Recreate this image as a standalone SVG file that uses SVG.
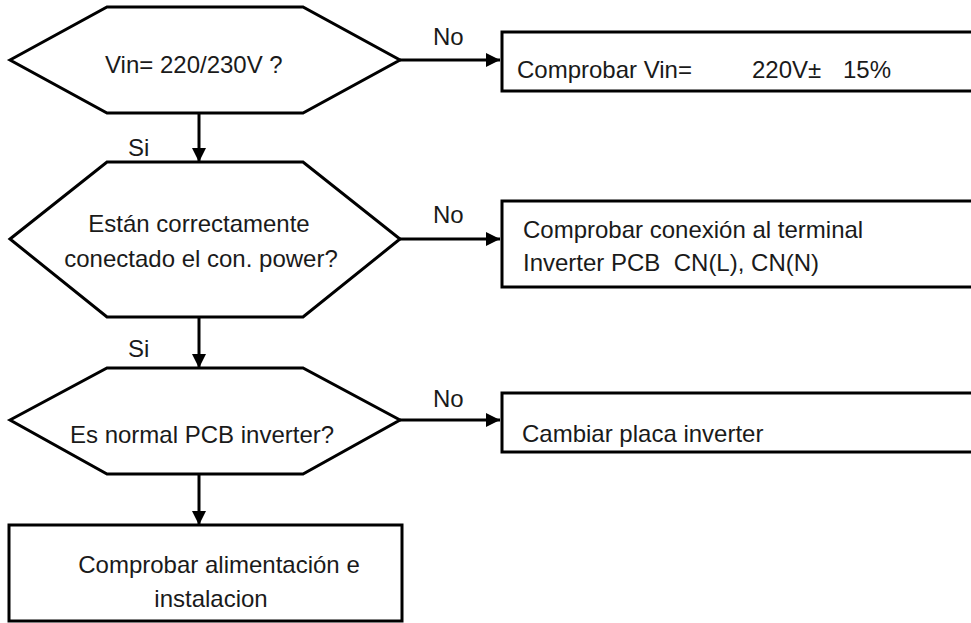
<svg xmlns="http://www.w3.org/2000/svg" width="971" height="623" viewBox="0 0 971 623">
<defs>
<style>
.shape{fill:#fff;stroke:#000;stroke-width:3;stroke-linejoin:miter}
.t{font-family:"Liberation Sans",Arial,sans-serif;font-size:24px;fill:#1a1a1a}
.c{text-anchor:middle}
.pre{white-space:pre}
.line{stroke:#000;stroke-width:3;fill:none}
</style>
<marker id="ah" viewBox="0 0 10 10" refX="10" refY="5" markerWidth="14" markerHeight="14" markerUnits="userSpaceOnUse" orient="auto">
<path d="M0,0 L10,5 L0,10 Z" fill="#000"/>
</marker>
</defs>
<rect width="971" height="623" fill="#fff"/>
<g id="connectors">
<line class="line" x1="400" y1="60" x2="500" y2="60" marker-end="url(#ah)"/>
<text class="t" x="433" y="45">No</text>
<line class="line" x1="199" y1="113" x2="199" y2="162" marker-end="url(#ah)"/>
<text class="t" x="128" y="156">Si</text>
<line class="line" x1="400" y1="239" x2="500" y2="239" marker-end="url(#ah)"/>
<text class="t" x="433" y="223">No</text>
<line class="line" x1="199" y1="317" x2="199" y2="368" marker-end="url(#ah)"/>
<text class="t" x="128" y="357">Si</text>
<line class="line" x1="400" y1="420" x2="500" y2="420" marker-end="url(#ah)"/>
<text class="t" x="433" y="407">No</text>
<line class="line" x1="199" y1="474" x2="199" y2="525" marker-end="url(#ah)"/>
</g>
<g id="d1">
<polygon class="shape" points="10,60 107,7 303,7 400,60 303,113 107,113"/>
<text class="t" x="105" y="73">Vin= 220/230V ?</text>
</g>
<g id="b1">
<rect class="shape" x="502" y="32" width="472" height="59"/>
<text class="t" x="517" y="78">Comprobar Vin=</text>
<text class="t" x="752" y="78">220V±</text>
<text class="t" x="843" y="78">15%</text>
</g>
<g id="d2">
<polygon class="shape" points="10,239 107,162 303,162 400,239 303,317 107,317"/>
<text class="t c" x="199" y="232">Están correctamente</text>
<text class="t c" x="201" y="267">conectado el con. power?</text>
</g>
<g id="b2">
<rect class="shape" x="502" y="201" width="472" height="86"/>
<text class="t" x="523" y="238">Comprobar conexión al terminal</text>
<text class="t pre" x="523" y="271" xml:space="preserve">Inverter PCB  CN(L), CN(N)</text>
</g>
<g id="d3">
<polygon class="shape" points="10,420 107,368 303,368 400,420 303,474 107,474"/>
<text class="t" x="70" y="443">Es normal PCB inverter?</text>
</g>
<g id="b3">
<rect class="shape" x="502" y="393" width="472" height="59"/>
<text class="t" x="522" y="442">Cambiar placa inverter</text>
</g>
<g id="b4">
<rect class="shape" x="9" y="525" width="393" height="96"/>
<text class="t c" x="219" y="573">Comprobar alimentación e</text>
<text class="t c" x="211" y="607">instalacion</text>
</g>
</svg>
